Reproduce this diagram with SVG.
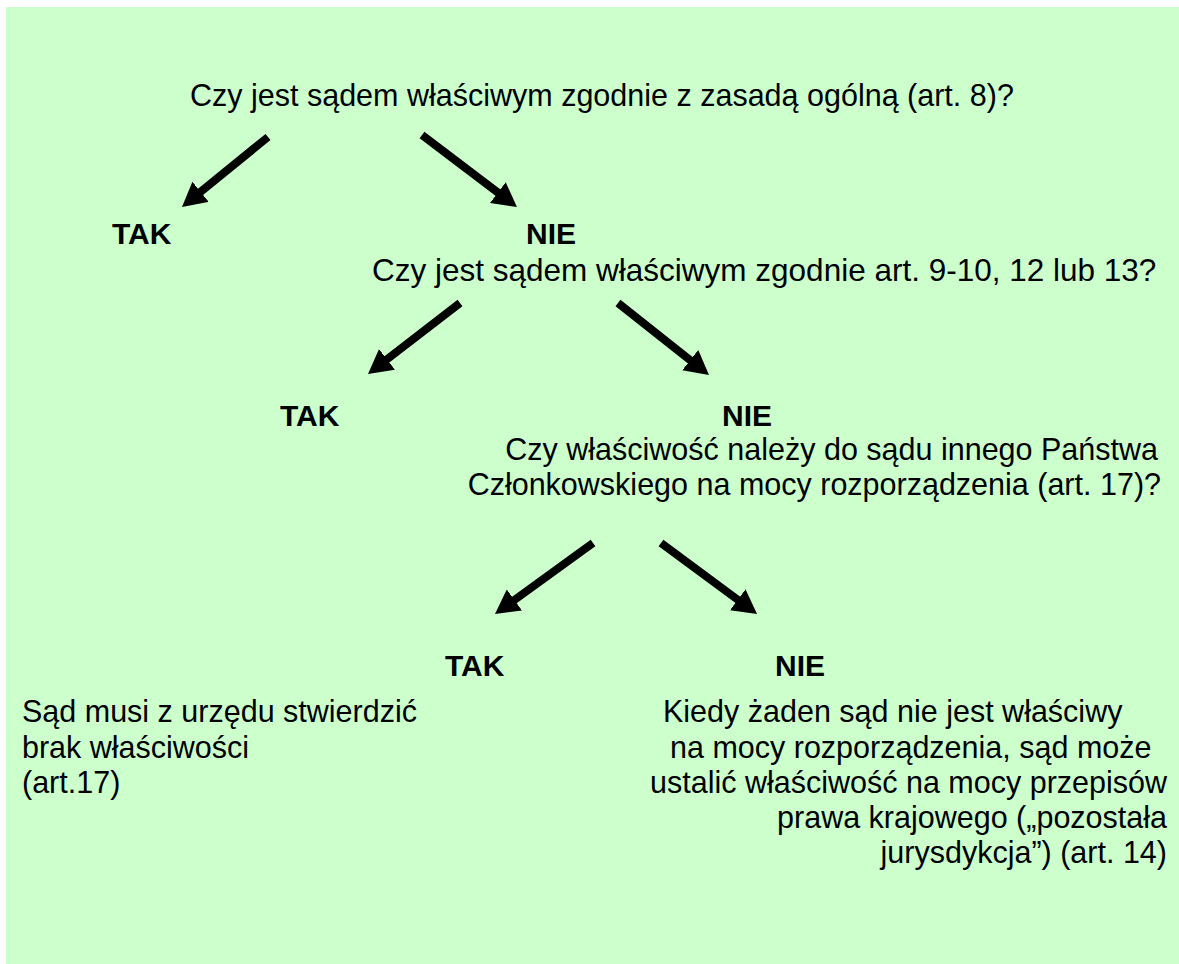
<svg xmlns="http://www.w3.org/2000/svg" width="1179" height="964" viewBox="0 0 1179 964">
<style>
.t{font-family:"Liberation Sans",Arial,sans-serif;font-size:30.5px;fill:#000}
.b{font-family:"Liberation Sans",Arial,sans-serif;font-size:30px;font-weight:bold;fill:#000}
.e{text-anchor:end}
.a{stroke:#000;stroke-width:8;fill:none;marker-end:url(#ah)}
</style>
<defs>
<marker id="ah" markerUnits="userSpaceOnUse" markerWidth="24" markerHeight="26" refX="12" refY="13" orient="auto" viewBox="0 0 24 26">
<path d="M0,0 L24,13 L0,26 z" fill="#000"/>
</marker>
</defs>
<rect x="6" y="7" width="1173" height="957" fill="#CCFFCC"/>
<g id="q1"><text class="t" x="190" y="106">Czy jest sądem właściwym zgodnie z zasadą ogólną (art. 8)?</text></g>
<g id="tak1"><text class="b" x="112" y="244">TAK</text></g>
<g id="nie1"><text class="b" x="526" y="244">NIE</text></g>
<g id="q2"><text class="t" x="372" y="281" style="font-size:31.5px">Czy jest sądem właściwym zgodnie art. 9-10, 12 lub 13?</text></g>
<g id="tak2"><text class="b" x="280" y="426">TAK</text></g>
<g id="nie2"><text class="b" x="722" y="426">NIE</text></g>
<g id="q3">
<text class="t e" x="1158" y="460">Czy właściwość należy do sądu innego Państwa</text>
<text class="t e" x="1161" y="495">Członkowskiego na mocy rozporządzenia (art. 17)?</text>
</g>
<g id="tak3"><text class="b" x="445" y="676">TAK</text></g>
<g id="nie3"><text class="b" x="775" y="676">NIE</text></g>
<g id="res-tak">
<text class="t" x="22" y="722">Sąd musi z urzędu stwierdzić</text>
<text class="t" x="22" y="758">brak właściwości</text>
<text class="t" x="22" y="793">(art.17)</text>
</g>
<g id="res-nie">
<text class="t" x="663" y="722">Kiedy żaden sąd nie jest właściwy</text>
<text class="t" x="670" y="758">na mocy rozporządzenia, sąd może</text>
<text class="t e" x="1167" y="793">ustalić właściwość na mocy przepisów</text>
<text class="t e" x="1167" y="828">prawa krajowego („pozostała</text>
<text class="t e" x="1167" y="863">jurysdykcja”) (art. 14)</text>
</g>
<g id="connectors">
<line class="a" x1="268" y1="137" x2="191.3" y2="199.4"/>
<line class="a" x1="422" y1="135" x2="507.4" y2="199.8"/>
<line class="a" x1="460" y1="303" x2="377.5" y2="366.7"/>
<line class="a" x1="618" y1="303" x2="699.6" y2="367.6"/>
<line class="a" x1="593" y1="543" x2="504.7" y2="607"/>
<line class="a" x1="661" y1="543" x2="747.4" y2="606.9"/>
</g>
</svg>
